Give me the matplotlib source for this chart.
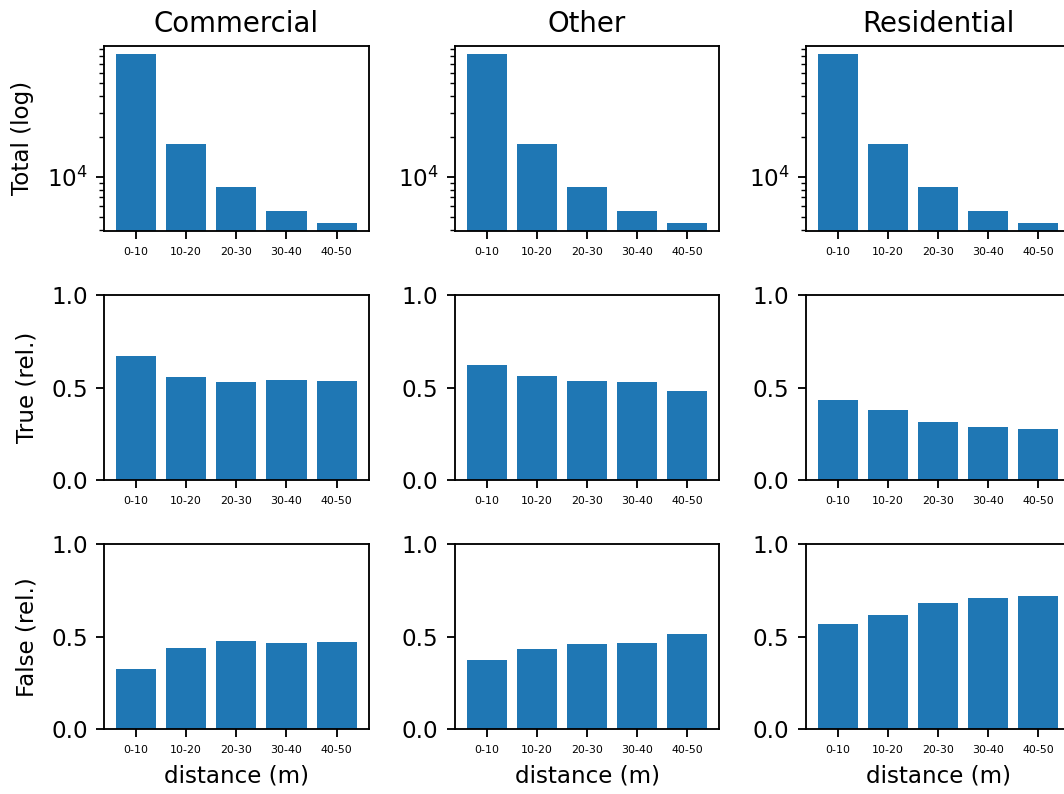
import matplotlib

matplotlib.use("Agg")
import matplotlib.pyplot as plt  # noqa: E402

categories = ["Commercial", "Other", "Residential"]
bins = ["0-10", "10-20", "20-30", "30-40", "40-50"]

# total counts per distance bin
total = {
    "Commercial": [83200, 17600, 8370, 5530, 4490],
    "Other": [83200, 17600, 8370, 5530, 4490],
    "Residential": [83200, 17600, 8370, 5530, 4490],
}
true_rel = {
    "Commercial": [0.670, 0.557, 0.530, 0.541, 0.535],
    "Other": [0.622, 0.562, 0.535, 0.530, 0.481],
    "Residential": [0.432, 0.378, 0.314, 0.286, 0.276],
}
false_rel = {
    "Commercial": [0.325, 0.439, 0.477, 0.466, 0.471],
    "Other": [0.374, 0.433, 0.460, 0.466, 0.514],
    "Residential": [0.569, 0.617, 0.682, 0.709, 0.720],
}

_W, _H, _DPI = 1064, 794, 166
_LEFTS = [104, 454.7, 805.7]       # px, left spine of each column
_TOPS = [45.7, 295, 544.3]          # px, top spine of each row
_AW, _AH = 264.7, 185               # axes size in px


def main():
    fig = plt.figure(figsize=(_W / _DPI, _H / _DPI), dpi=_DPI)
    rows = [("Total (log)", total), ("True (rel.)", true_rel), ("False (rel.)", false_rel)]
    for r, (ylab, data) in enumerate(rows):
        for c, cat in enumerate(categories):
            ax = fig.add_axes([_LEFTS[c] / _W, 1 - (_TOPS[r] + _AH) / _H, _AW / _W, _AH / _H])
            ax.bar(range(len(bins)), data[cat], color="#1f77b4")
            ax.set_xticks(range(len(bins)))
            ax.set_xticklabels(bins, fontsize=4.8)
            if r == 0:
                ax.set_yscale("log")
                ax.set_ylim(3940, 96000)
                ax.set_title(cat, fontsize=12)
            else:
                ax.set_ylim(0, 1)
                ax.set_yticks([0.0, 0.5, 1.0])
            if c == 0:
                ax.set_ylabel(ylab, labelpad=5.5)
            if r == 2:
                ax.set_xlabel("distance (m)")
    fig.savefig("out.png", dpi=_DPI)
    plt.close(fig)


if __name__ == "__main__":
    main()
